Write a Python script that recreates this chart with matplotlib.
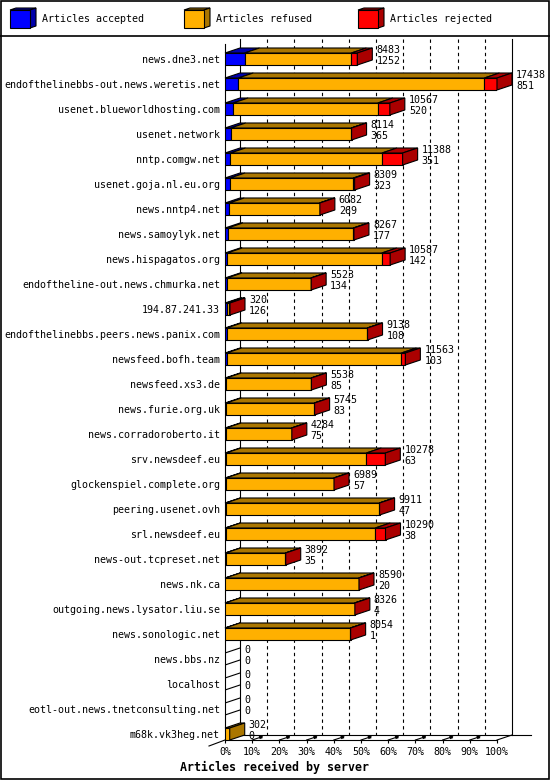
import matplotlib
matplotlib.use("Agg")
import matplotlib.pyplot as plt
from matplotlib.patches import Polygon, Rectangle

# data
servers = ["news.dne3.net", "endofthelinebbs-out.news.weretis.net",
           "usenet.blueworldhosting.com", "usenet.network", "nntp.comgw.net",
           "usenet.goja.nl.eu.org", "news.nntp4.net", "news.samoylyk.net",
           "news.hispagatos.org", "endoftheline-out.news.chmurka.net",
           "194.87.241.33", "endofthelinebbs.peers.news.panix.com",
           "newsfeed.bofh.team", "newsfeed.xs3.de", "news.furie.org.uk",
           "news.corradoroberto.it", "srv.newsdeef.eu",
           "glockenspiel.complete.org", "peering.usenet.ovh", "srl.newsdeef.eu",
           "news-out.tcpreset.net", "news.nk.ca", "outgoing.news.lysator.liu.se",
           "news.sonologic.net", "news.bbs.nz", "localhost",
           "eotl-out.news.tnetconsulting.net", "m68k.vk3heg.net"]
total = [8483, 17438, 10567, 8114, 11388, 8309, 6082, 8267, 10587, 5523,
         320, 9138, 11563, 5538, 5745, 4284, 10278, 6989, 9911, 10290,
         3892, 8590, 8326, 8054, 0, 0, 0, 302]
accepted = [1252, 851, 520, 365, 351, 323, 269, 177, 142, 134,
            126, 108, 103, 85, 83, 75, 63, 57, 47, 38,
            35, 20, 4, 1, 0, 0, 0, 0]
rejected = [385, 808, 770, 20, 1325, 80, 20, 40, 535, 20,
            60, 20, 256, 20, 20, 20, 1218, 20, 20, 660,
            20, 20, 20, 20, 0, 0, 0, 0]
refused = [t - a - r for t, a, r in zip(total, accepted, rejected)]

series_names = ["Articles accepted", "Articles refused", "Articles rejected"]
colors = ["#0000ff", "#ffb000", "#ff0000"]
shades = ["#0000aa", "#aa7600", "#aa0000"]
pct_ticks = list(range(0, 101, 10))

plt.rcParams['font.family'] = ['DejaVu Sans Mono']
fs = 7.2
lw = 0.8

W, H = 550, 780
fig = plt.figure(figsize=(5.5, 7.8), dpi=100)

# frame + legend (pixel overlay)
bg = fig.add_axes([0, 0, 1, 1])
bg.set_xlim(0, W)
bg.set_ylim(H, 0)
bg.axis('off')
bg.add_patch(Rectangle((0.5, 0.5), W - 1.5, H - 1.5, fill=False, lw=1.2, ec='black'))
bg.plot([0, W], [35.5, 35.5], color='black', lw=1.2)
for k, name in enumerate(series_names):
    x0 = 10 + 174 * k
    bg.add_patch(Polygon([(x0, 10), (x0 + 20, 10), (x0 + 26, 8), (x0 + 6, 8)],
                         fc=shades[k], ec='black', lw=lw))
    bg.add_patch(Polygon([(x0 + 20, 10), (x0 + 26, 8), (x0 + 26, 26), (x0 + 20, 28)],
                         fc=shades[k], ec='black', lw=lw))
    bg.add_patch(Rectangle((x0, 10), 20, 18, fc=colors[k], ec='black', lw=lw))
    bg.text(x0 + 32, 19.5, name, fontsize=fs, va='center', ha='left')

# plot axes
ax = fig.add_axes([225 / W, 40 / H, 272 / W, 696 / H])
n = len(servers)
xmax = max(total)
px = xmax / 272.0
py = 1 / 25.0
dx = 15 * px
dy = 5 * py
half = 6 * py
ytop = -0.6
ybot = n - 1 + 0.24
ax.set_xlim(0, xmax)
ax.set_ylim(ybot, ytop)

# back wall grid
for p in pct_ticks:
    xg = p / 100 * xmax + dx
    style = '-' if p in (0, 100) else (0, (3, 3))
    ax.plot([xg, xg], [ytop - dy, ybot - dy], color='black', lw=lw,
            linestyle=style, zorder=1, clip_on=False)

# floor
ax.plot([dx, xmax + dx + 19 * px], [ybot - dy, ybot - dy], color='black', lw=lw,
        zorder=1, clip_on=False)
ax.plot([xmax, xmax + dx], [ybot, ybot - dy], color='black', lw=lw, zorder=1, clip_on=False)
ax.plot([-16 * px, 0], [ybot + 6 * py, ybot], color='black', lw=lw, zorder=1, clip_on=False)
for p in pct_ticks[1:-1]:
    xf = p / 100 * xmax
    ax.plot([xf, xf + 10 * px], [ybot, ybot - 3.3 * py], color='black', lw=lw,
            zorder=1, clip_on=False)
    ax.plot([xf + 7 * px, xf + 10 * px], [ybot - 2.3 * py, ybot - 3.3 * py],
            color='black', lw=2.2, zorder=1, clip_on=False, solid_capstyle='butt')

# bars
for i in range(n):
    segs = [accepted[i], refused[i], rejected[i]]
    top = i - half
    bot = i + half
    left = 0
    last = None
    for k, v in enumerate(segs):
        if v <= 0:
            continue
        ax.barh(i, v, left=left, height=2 * half, color=colors[k], edgecolor='black',
                lw=lw, zorder=3)
        ax.add_patch(Polygon([(left, top), (left + v, top), (left + v + dx, top - dy),
                              (left + dx, top - dy)], closed=True, fc=shades[k],
                             ec='black', lw=lw, zorder=3, clip_on=False))
        left += v
        last = k
    if last is not None:
        ax.add_patch(Polygon([(left, top), (left + dx, top - dy), (left + dx, bot - dy),
                              (left, bot)], closed=True, fc=shades[last], ec='black',
                             lw=lw, zorder=3, clip_on=False))
    else:
        ax.plot([0, dx], [top, top - dy], color='black', lw=lw, zorder=3)
        ax.plot([0, dx], [bot, bot - dy], color='black', lw=lw, zorder=3)
    ax.text(total[i] + dx + 4 * px, i - 0.14, "%d\n%d" % (total[i], accepted[i]),
            fontsize=fs, va='center', ha='left', linespacing=1.05, zorder=4,
            clip_on=False)

ax.set_yticks(range(n))
ax.set_yticklabels(servers, fontsize=fs)
ax.set_xticks([p / 100 * xmax for p in pct_ticks])
ax.set_xticklabels(["%d%%" % p for p in pct_ticks], fontsize=fs)
ax.tick_params(axis='y', length=0, pad=3.6)
ax.tick_params(axis='x', length=2.2, width=lw, pad=2.5, direction='out')
for s in ('top', 'right'):
    ax.spines[s].set_visible(False)
for s in ('left', 'bottom'):
    ax.spines[s].set_linewidth(lw)
ax.patch.set_alpha(0)

fig.text(275 / W, 1 - 767 / H, "Articles received by server", fontsize=8.4,
         fontweight='bold', ha='center', va='center')

fig.savefig("out.png", dpi=100)
